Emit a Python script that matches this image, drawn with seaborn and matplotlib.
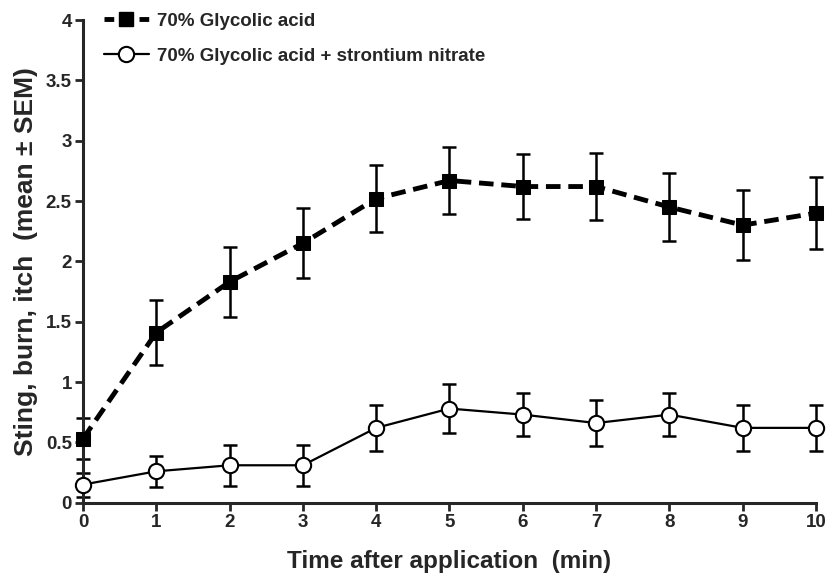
import numpy as np
import pandas as pd
import matplotlib
matplotlib.use("Agg")
import matplotlib.pyplot as plt
from matplotlib.lines import Line2D
import seaborn as sns

# datos
minutos = [0, 1, 2, 3, 4, 5, 6, 7, 8, 9, 10]
glicolico = [0.53, 1.41, 1.83, 2.15, 2.52, 2.67, 2.62, 2.62, 2.45, 2.30, 2.40]
glicolico_sem = [0.17, 0.27, 0.29, 0.29, 0.28, 0.28, 0.27, 0.28, 0.28, 0.29, 0.30]
estroncio = [0.15, 0.26, 0.31, 0.31, 0.62, 0.78, 0.73, 0.66, 0.73, 0.62, 0.62]
estroncio_sem = [0.10, 0.13, 0.17, 0.17, 0.19, 0.20, 0.18, 0.19, 0.18, 0.19, 0.19]
etiquetas = ["70% Glycolic acid", "70% Glycolic acid + strontium nitrate"]
yticks = [0, 0.5, 1, 1.5, 2, 2.5, 3, 3.5, 4]
ytick_labels = ["0", "0.5", "1", "1.5", "2", "2.5", "3", "3.5", "4"]

sns.set_style("ticks")
plt.rcParams["font.family"] = ["Liberation Sans", "DejaVu Sans"]
plt.rcParams["font.weight"] = "bold"

df = pd.DataFrame({"min": minutos * 2,
                   "score": glicolico + estroncio,
                   "grupo": [etiquetas[0]] * len(minutos) + [etiquetas[1]] * len(minutos)})

fig = plt.figure(figsize=(8.29, 5.77), dpi=100)
ax = fig.add_axes([0.1001, 0.1288, 0.8842, 0.8365])

# barras de error (SEM)
ax.errorbar(minutos, glicolico, yerr=glicolico_sem, fmt="none", ecolor="black",
            elinewidth=1.8, capsize=5, capthick=1.8, clip_on=False, zorder=2)
ax.errorbar(minutos, estroncio, yerr=estroncio_sem, fmt="none", ecolor="black",
            elinewidth=1.8, capsize=5, capthick=1.8, clip_on=False, zorder=2)

sns.lineplot(data=df[df.grupo == etiquetas[0]], x="min", y="score", ax=ax,
             color="black", linewidth=3.5, linestyle=(0, (3, 1.6)),
             marker="s", markersize=10, markerfacecolor="black",
             markeredgecolor="black", clip_on=False, zorder=3)
sns.lineplot(data=df[df.grupo == etiquetas[1]], x="min", y="score", ax=ax,
             color="black", linewidth=1.6, marker="o", markersize=11,
             markerfacecolor="white", markeredgecolor="black", markeredgewidth=1.5,
             clip_on=False, zorder=3)

ax.set_xlim(0, 10)
ax.set_ylim(0, 4)
ax.set_xticks(minutos)
ax.set_xticklabels([str(m) for m in minutos], fontsize=13.5, fontweight="bold")
ax.set_yticks(yticks)
ax.set_yticklabels(ytick_labels, fontsize=13.5, fontweight="bold")
ax.tick_params(axis="both", length=6, width=2, pad=2)

sns.despine(ax=ax)
for lado in ["left", "bottom"]:
    ax.spines[lado].set_linewidth(2.2)

ax.set_xlabel("Time after application  (min)", fontsize=17.5, fontweight="bold", labelpad=14)
ax.set_ylabel("Sting, burn, itch  (mean \u00b1 SEM)", fontsize=19, fontweight="bold", labelpad=6)

# leyenda a mano para que se vea "- ■ -"
h1 = Line2D([], [], color="black", linewidth=3.5, linestyle=(0, (2.0, 1.6)),
            marker="s", markersize=10, markerfacecolor="black")
h2 = Line2D([], [], color="black", linewidth=1.6, marker="o", markersize=11,
            markerfacecolor="white", markeredgewidth=1.5)
ax.legend([h1, h2], etiquetas, loc="upper left", bbox_to_anchor=(0.005, 1.05),
          frameon=False, handlelength=2.45, labelspacing=0.95, handletextpad=0.4,
          prop={"size": 13.5, "weight": "bold"})

plt.savefig("out.png", dpi=100)
